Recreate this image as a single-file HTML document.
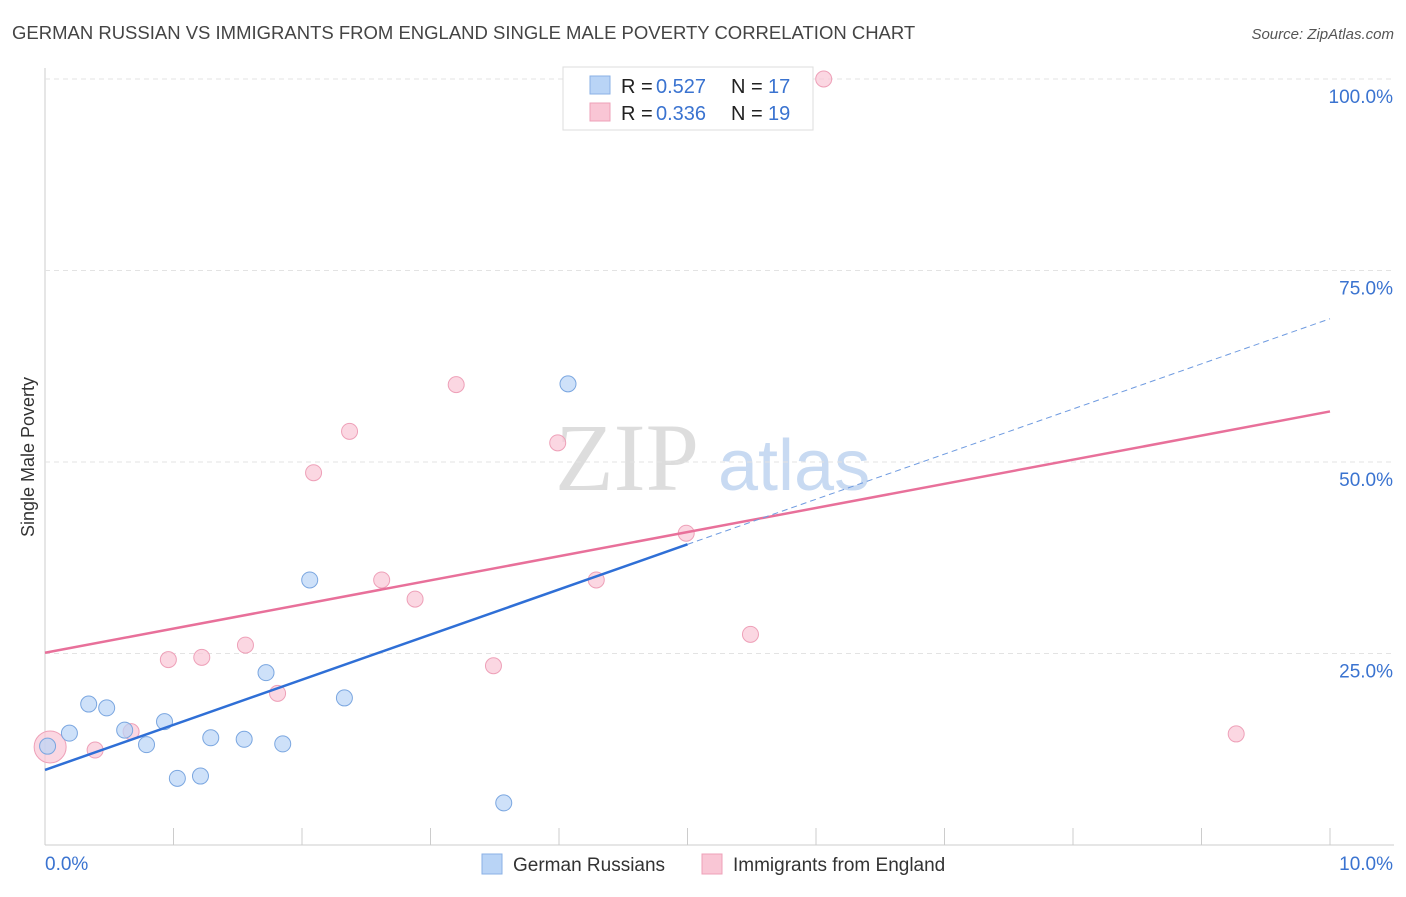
<!DOCTYPE html>
<html><head><meta charset="utf-8"><style>
body{margin:0;background:#fff;font-family:"Liberation Sans",sans-serif;}
svg text{font-family:"Liberation Sans",sans-serif;}
</style></head><body>
<svg id="chart" width="1406" height="892">
<text x="12" y="39" font-size="18.5" fill="#444">GERMAN RUSSIAN VS IMMIGRANTS FROM ENGLAND SINGLE MALE POVERTY CORRELATION CHART</text>
<text x="1394" y="39" font-size="15" fill="#555" font-style="italic" text-anchor="end">Source: ZipAtlas.com</text>
<text x="34" y="457" font-size="18" fill="#333" transform="rotate(-90 34 457)" text-anchor="middle">Single Male Poverty</text>
<text x="555" y="490" font-size="96" fill="#ddd" style="font-family:'Liberation Serif',serif">ZIP</text>
<text x="718" y="490" font-size="72" fill="#c8daf2">atlas</text>
<g id="grid"></g><g id="marks"></g>
<g>
<rect x="563" y="67" width="250" height="63" fill="#fff" stroke="#ddd"/>
<rect x="590" y="76" width="20" height="18" fill="#b9d4f6" stroke="#8ab0e6"/>
<rect x="590" y="103" width="20" height="18" fill="#f9c6d5" stroke="#eea0b8"/>
<text x="621" y="93" font-size="20" fill="#222">R =</text>
<text x="656" y="93" font-size="20" fill="#3a73d0">0.527</text>
<text x="731" y="93" font-size="20" fill="#222">N =</text>
<text x="768" y="93" font-size="20" fill="#3a73d0">17</text>
<text x="621" y="120" font-size="20" fill="#222">R =</text>
<text x="656" y="120" font-size="20" fill="#3a73d0">0.336</text>
<text x="731" y="120" font-size="20" fill="#222">N =</text>
<text x="768" y="120" font-size="20" fill="#3a73d0">19</text>
</g>
<g>
<rect x="482" y="854" width="20" height="20" fill="#b9d4f6" stroke="#8ab0e6"/>
<text x="513" y="871" font-size="19" fill="#333">German Russians</text>
<rect x="702" y="854" width="20" height="20" fill="#f9c6d5" stroke="#eea0b8"/>
<text x="733" y="871" font-size="19" fill="#333">Immigrants from England</text>
</g>
</svg>
<script>
const blueX=[0.02,0.19,0.34,0.48,0.62,0.79,0.93,1.03,1.21,1.29,1.55,1.72,1.85,2.06,2.33,3.57,4.07];
const blueY=[12.9,14.6,18.4,17.9,15.0,13.1,16.1,8.7,9.0,14.0,13.8,22.5,13.2,34.6,19.2,5.5,60.2];
const pinkX=[0.04,0.39,0.67,0.96,1.22,1.56,1.81,2.09,2.37,2.62,2.88,3.2,3.49,3.99,4.29,4.99,5.49,6.06,9.27];
const pinkY=[12.8,12.4,14.8,24.2,24.5,26.1,19.8,48.6,54.0,34.6,32.1,60.1,23.4,52.5,34.6,40.7,27.5,100,14.5];
const blueLine=[9.8,5.89];
const pinkLine=[25.1,3.15];
const yTicks=[25,50,75,100];
const NS="http://www.w3.org/2000/svg";
const sx=v=>45+v*128.5, sy=v=>845-v*7.66;
const grid=document.getElementById('grid'), marks=document.getElementById('marks');
function mk(tag,attrs,parent){const e=document.createElementNS(NS,tag);for(const k in attrs)e.setAttribute(k,attrs[k]);parent.appendChild(e);return e;}
let ax=mk('line',{x1:45,y1:68,x2:45,y2:845,stroke:'#ccc'},grid);


let bx=mk('line',{x1:45,y1:845,x2:1394,y2:845,stroke:'#ccc'},grid);


for(let i=1;i<=10;i++){let t=mk('line',{x1:sx(i),y1:828,x2:sx(i),y2:845,stroke:'#ccc'},grid);

}
yTicks.forEach(v=>{let g=mk('line',{x1:45,y1:sy(v),x2:1394,y2:sy(v),stroke:'#e3e3e3','stroke-dasharray':'5,4'},grid);


let t=mk('text',{x:1393,y:sy(v)+24,'font-size':19,fill:'#3a73d0','text-anchor':'end'},grid);t.textContent=v.toFixed(1)+'%';

});
let x0=mk('text',{x:45,y:870,'font-size':19,fill:'#3a73d0'},grid);x0.textContent='0.0%';


let x1=mk('text',{x:1393,y:870,'font-size':19,fill:'#3a73d0','text-anchor':'end'},grid);x1.textContent='10.0%';


pinkX.forEach((x,i)=>{let c=mk('circle',{cx:sx(x),cy:sy(pinkY[i]),r:i==0?16:8,fill:'#f9c6d5','fill-opacity':0.7,stroke:'#eea0b8'},marks);

});
blueX.forEach((x,i)=>{let c=mk('circle',{cx:sx(x),cy:sy(blueY[i]),r:8,fill:'#b9d4f6','fill-opacity':0.7,stroke:'#7aa6e0'},marks);

});
let pl=mk('line',{x1:sx(0),y1:sy(pinkLine[0]),x2:sx(10),y2:sy(pinkLine[0]+pinkLine[1]*10),stroke:'#e8709a','stroke-width':2.5},marks);


let bl=mk('line',{x1:sx(0),y1:sy(blueLine[0]),x2:sx(5),y2:sy(blueLine[0]+blueLine[1]*5),stroke:'#2f6fd6','stroke-width':2.5},marks);


let bd=mk('line',{x1:sx(5),y1:sy(blueLine[0]+blueLine[1]*5),x2:sx(10),y2:sy(blueLine[0]+blueLine[1]*10),stroke:'#6f9be0','stroke-width':1,'stroke-dasharray':'6,4'},marks);


</script>
</body></html>
